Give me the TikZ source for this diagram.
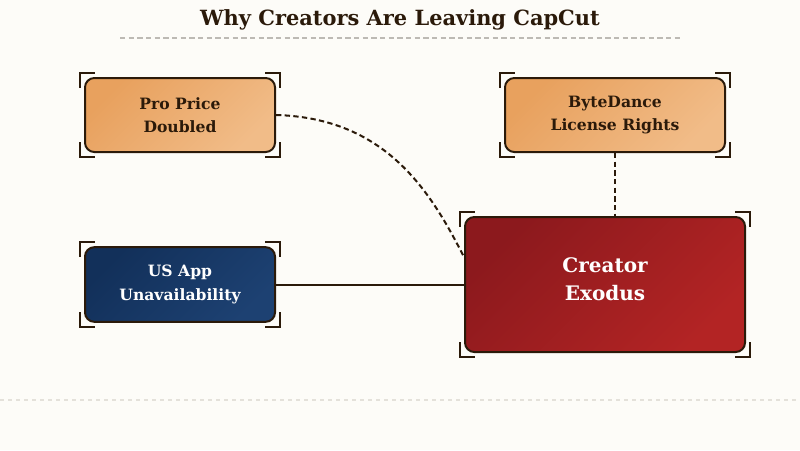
\documentclass[tikz,border=0pt]{standalone}
\usepackage{fontspec}
\setmainfont{DejaVu Serif}
\usetikzlibrary{calc}
\definecolor{bg}{HTML}{FDFCF8}
\definecolor{ink}{HTML}{2B1A0A}
\definecolor{orA}{HTML}{E8A15E}
\definecolor{orB}{HTML}{F1BC88}
\definecolor{blA}{HTML}{12305A}
\definecolor{blB}{HTML}{1D4172}
\definecolor{rdA}{HTML}{8C191D}
\definecolor{rdB}{HTML}{B32424}
\definecolor{rule}{HTML}{BDBAB4}
\definecolor{rule2}{HTML}{E4E1DA}
\tikzset{
  box/.style={draw=ink, line width=1.5pt, rounded corners=7pt, align=center, inner sep=0pt},
  orangebox/.style={box, left color=orA, right color=orB, shading angle=45, text=ink,
     font=\bfseries\fontsize{11.7}{17.5}\selectfont},
  bluebox/.style={box, left color=blA, right color=blB, shading angle=45, text=white,
     font=\bfseries\fontsize{11.7}{17.5}\selectfont},
  redbox/.style={box, left color=rdA, right color=rdB, shading angle=45},
  boxlabel/.style={text=white, align=center, font=\bfseries\fontsize{15}{21}\selectfont},
  cornerln/.style={draw=ink, line width=1.5pt},
  link/.style={draw=ink, line width=1.5pt},
  dlink/.style={link, dash pattern=on 4pt off 2.5pt},
}
\newcommand\crnmarks[1]{%
  \draw[cornerln] ([xshift=-3pt,yshift=-8pt]#1.north west) -- ([xshift=-3pt,yshift=3pt]#1.north west) -- ([xshift=8pt,yshift=3pt]#1.north west);
  \draw[cornerln] ([xshift=3pt,yshift=-8pt]#1.north east) -- ([xshift=3pt,yshift=3pt]#1.north east) -- ([xshift=-8pt,yshift=3pt]#1.north east);
  \draw[cornerln] ([xshift=-3pt,yshift=8pt]#1.south west) -- ([xshift=-3pt,yshift=-3pt]#1.south west) -- ([xshift=8pt,yshift=-3pt]#1.south west);
  \draw[cornerln] ([xshift=3pt,yshift=8pt]#1.south east) -- ([xshift=3pt,yshift=-3pt]#1.south east) -- ([xshift=-8pt,yshift=-3pt]#1.south east);
}
\begin{document}
\begin{tikzpicture}[x=0.75pt,y=-0.75pt]
\fill[bg] (0,0) rectangle (800,450);
\useasboundingbox (0,0) rectangle (800,450);
% title
\node[text=ink, font=\bfseries\fontsize{15.7}{18}\selectfont] (title) at (400,20) {Why Creators Are Leaving CapCut};
\coordinate (tl) at (120,38);
\coordinate (tr) at (680,38);
\draw[rule, line width=1.2pt, dash pattern=on 4pt off 2.5pt] (tl) -- (tr);
\coordinate (bl) at (0,400);
\coordinate (br) at (800,400);
\draw[rule2, line width=1.5pt, dash pattern=on 3pt off 3pt] (bl) -- (br);
% nodes
\node[orangebox, minimum width=142.5pt, minimum height=55.5pt] (pro) at (180,115) {Pro Price\\Doubled};
\node[orangebox, minimum width=165pt, minimum height=55.5pt] (byte) at (615,115) {ByteDance\\License Rights};
\node[bluebox, minimum width=142.5pt, minimum height=56pt] (us) at (180,284.5) {US App\\Unavailability};
\node[redbox, minimum width=210pt, minimum height=101.25pt] (exo) at (605,284.5) {};
\node[boxlabel] (exotext) at (605,279.5) {Creator\\Exodus};
\crnmarks{pro}
\crnmarks{byte}
\crnmarks{us}
\crnmarks{exo}
% connectors
\coordinate (exoin) at ($(exo.north west)!0.3!(exo.south west)$);
\draw[dlink] (pro.east) .. controls (385,118) and (430,190) .. (exoin);
\draw[dlink] (byte.south) -- (byte.south |- exo.north);
\draw[link] (us.east) -- (exo.west |- us.east);
\end{tikzpicture}
\end{document}
